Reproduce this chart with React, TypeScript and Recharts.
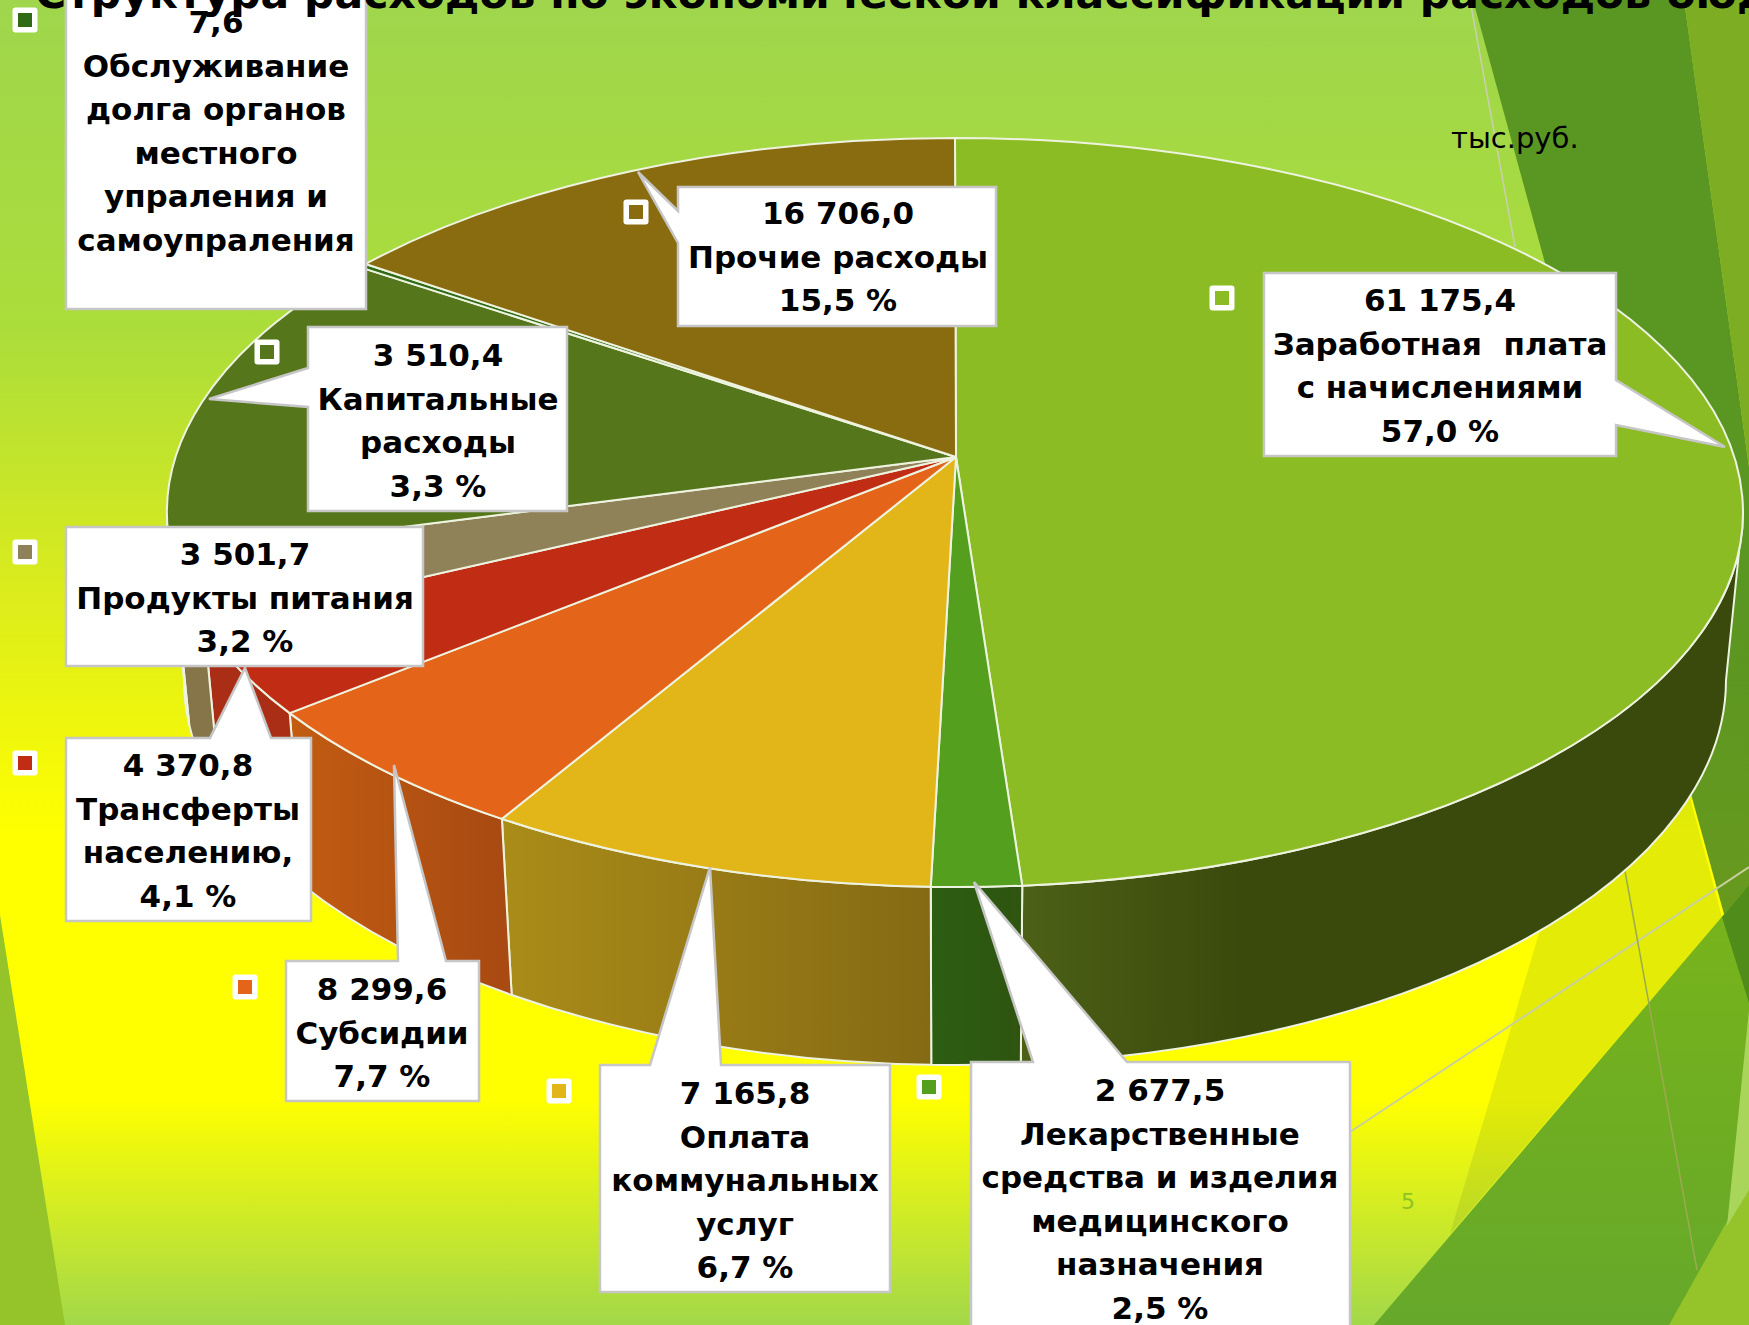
import React from 'react';
import { PieChart, Pie } from 'recharts';

const W = 1749;
const H = 1325;

const categories = [
  'Заработная плата с начислениями',
  'Лекарственные средства и изделия медицинского назначения',
  'Оплата коммунальных услуг',
  'Субсидии',
  'Трансферты населению',
  'Продукты питания',
  'Капитальные расходы',
  'Обслуживание долга органов местного упраления и самоупраления',
  'Прочие расходы',
];

// share of the circle each wedge really takes in the picture; it does not follow the printed numbers
const drawnShares = [48.64, 1.85, 9.26, 6.25, 4.08, 3.06, 13.23, 0.18, 13.45];

const labelLines = [
  ['61 175,4', 'Заработная  плата', 'с начислениями', '57,0 %'],
  ['2 677,5', 'Лекарственные', 'средства и изделия', 'медицинского', 'назначения', '2,5 %'],
  ['7 165,8', 'Оплата', 'коммунальных', 'услуг', '6,7 %'],
  ['8 299,6', 'Субсидии', '7,7 %'],
  ['4 370,8', 'Трансферты', 'населению,', '4,1 %'],
  ['3 501,7', 'Продукты питания', '3,2 %'],
  ['3 510,4', 'Капитальные', 'расходы', '3,3 %'],
  ['7,6', 'Обслуживание', 'долга органов', 'местного', 'упраления и', 'самоупраления'],
  ['16 706,0', 'Прочие расходы', '15,5 %'],
];

const faceColors = ['#8cbc24', '#54a01e', '#e2b518', '#e4651a', '#c12d14', '#8f8258', '#55761a', '#2f6a16', '#8a6c10'];

const wallStops = [
  [['0%', '#4c6016'], ['30%', '#3a4a0c'], ['100%', '#3a4a0c']],
  [['0%', '#2b5e12'], ['100%', '#2f5410']],
  [['0%', '#aa8c18'], ['100%', '#856a14']],
  [['0%', '#c25c12'], ['100%', '#a84a12']],
  [['0%', '#aa2e16'], ['100%', '#aa2e16']],
  [['0%', '#857548'], ['100%', '#857548']],
  [['0%', '#45600f'], ['100%', '#45600f']],
  [['0%', '#2f6a16'], ['100%', '#2f6a16']],
  [['0%', '#6f5710'], ['100%', '#6f5710']],
];

// callout outlines, clockwise, tail included
const calloutOutlines = [
  [[1264, 273], [1616, 273], [1616, 380], [1725, 447], [1616, 425], [1616, 456], [1264, 456]],
  [[971, 1062], [1033, 1062], [974, 882], [1127, 1062], [1350, 1062], [1350, 1340], [971, 1340]],
  [[600, 1065], [650, 1065], [710, 867], [721, 1065], [890, 1065], [890, 1292], [600, 1292]],
  [[286, 961], [398, 961], [394, 765], [446, 961], [479, 961], [479, 1101], [286, 1101]],
  [[66, 738], [210, 738], [245, 668], [271, 738], [311, 738], [311, 921], [66, 921]],
  [[66, 527], [423, 527], [423, 666], [66, 666]],
  [[308, 327], [567, 327], [567, 511], [308, 511], [308, 407], [209, 399], [308, 368]],
  [[66, -20], [366, -20], [366, 309], [66, 309]],
  [[678, 187], [996, 187], [996, 326], [678, 326], [678, 243], [638, 172], [678, 211]],
];

const textCenters = [
  [1440, 300], [1160, 1090], [745, 1093], [382, 989], [188, 765], [245, 554], [438, 355], [216, 22], [838, 213],
];

const markerCenters = [
  [1222, 298], [929, 1087], [559, 1091], [245, 987], [25, 763], [25, 552], [267, 352], [25, 20], [636, 212],
];

const chartData = categories.map((name, i) => ({ name, share: drawnShares[i], fill: faceColors[i] }));

const LINE_H = 43.6;
const FONT = '"DejaVu Sans", sans-serif';

// the pie is a tilted disc: rim ellipse, apex above the ellipse centre, wall on a second ellipse
const RY_RATIO = 374.5 / 788;
const APEX_DY = -55.5;
const LOW_RX = 771 / 788;
const LOW_RY = 385 / 788;
const LOW_DY = 167.5;

const rad = (d: number) => (d * Math.PI) / 180;
const rimTop = (cx: number, cy: number, r: number, t: number) =>
  [cx + r * Math.sin(rad(t)), cy - r * RY_RATIO * Math.cos(rad(t))];
const rimLow = (cx: number, cy: number, r: number, t: number) =>
  [cx + r * LOW_RX * Math.sin(rad(t)), cy + LOW_DY - r * LOW_RY * Math.cos(rad(t))];

const sweep = (p: any) => {
  const a = 90 - Math.max(p.startAngle, p.endAngle);
  const b = 90 - Math.min(p.startAngle, p.endAngle);
  return [a, b];
};

function FaceShape(props: any) {
  const { cx, cy, outerRadius: r, fill } = props;
  const [t1, t2] = sweep(props);
  const [x1, y1] = rimTop(cx, cy, r, t1);
  const [x2, y2] = rimTop(cx, cy, r, t2);
  const large = t2 - t1 > 180 ? 1 : 0;
  const d = `M${cx + 1},${cy + APEX_DY} L${x1},${y1} A${r},${r * RY_RATIO} 0 ${large} 1 ${x2},${y2} Z`;
  return <path d={d} fill={fill} stroke="#eef3e0" strokeWidth={2} strokeLinejoin="round" />;
}

function WallShape(props: any) {
  const { cx, cy, outerRadius: r, index } = props;
  const [a, b] = sweep(props);
  const t1 = Math.max(a, 90);
  const t2 = Math.min(b, 270);
  if (t2 <= t1) return <g />;
  const [x1, y1] = rimTop(cx, cy, r, t1);
  const [x2, y2] = rimTop(cx, cy, r, t2);
  const [x3, y3] = rimLow(cx, cy, r, t2);
  const [x4, y4] = rimLow(cx, cy, r, t1);
  const d =
    `M${x1},${y1} A${r},${r * RY_RATIO} 0 0 1 ${x2},${y2} L${x3},${y3} ` +
    `A${r * LOW_RX},${r * LOW_RY} 0 0 0 ${x4},${y4} Z`;
  const id = `wall-${index}`;
  return (
    <g>
      <defs>
        <linearGradient id={id} gradientUnits="userSpaceOnUse" x1={Math.min(x1, x2)} x2={Math.max(x1, x2)} y1={0} y2={0}>
          {wallStops[index].map(([o, c]) => (
            <stop key={o} offset={o} stopColor={c} />
          ))}
        </linearGradient>
      </defs>
      <path d={d} fill={`url(#${id})`} stroke="#eef3e0" strokeWidth={2} strokeLinejoin="round" />
    </g>
  );
}

function Callout(props: any) {
  const { index } = props;
  const points = calloutOutlines[index].map((p) => p.join(',')).join(' ');
  const [tx, ty] = textCenters[index];
  const [mx, my] = markerCenters[index];
  return (
    <g>
      <rect x={mx - 12.5} y={my - 12.5} width={25} height={25} rx={3} fill="#fff" />
      <rect x={mx - 7} y={my - 7} width={14} height={14} fill={faceColors[index]} />
      <polygon points={points} fill="#fff" stroke="#c6c6c6" strokeWidth={2.5} />
      {labelLines[index].map((line, i) => (
        <text
          key={i}
          x={tx}
          y={ty + i * LINE_H + 11}
          textAnchor="middle"
          fontFamily={FONT}
          fontWeight="bold"
          fontSize={31}
          fill="#000"
          style={{ whiteSpace: 'pre' }}
        >
          {line}
        </text>
      ))}
    </g>
  );
}

function Backdrop() {
  return (
    <svg width={W} height={H} style={{ position: 'absolute', left: 0, top: 0 }}>
      <defs>
        <linearGradient id="bandDark" x1="0" y1="0" x2="0" y2="1">
          <stop offset="0%" stopColor="#5a9622" />
          <stop offset="60%" stopColor="#5a9622" />
          <stop offset="100%" stopColor="#6c9a1c" />
        </linearGradient>
        <linearGradient id="bigFacet" x1="0" y1="0" x2="0" y2="1">
          <stop offset="0%" stopColor="#78b41a" />
          <stop offset="100%" stopColor="#66a82a" />
        </linearGradient>
      </defs>
      <polygon points="0,915 65,1325 0,1325" fill="#94c42a" />
      <polygon points="1473,0 1684,0 1749,467 1749,1005 1545,263" fill="url(#bandDark)" />
      <polygon points="1684,0 1749,0 1749,467" fill="#7cad22" />
      <polygon points="1540,930 1690,798 1722,917 1450,1234" fill="#7a9a20" fillOpacity={0.2} />
      <polygon points="1374,1325 1749,885 1749,1325" fill="url(#bigFacet)" />
      <polygon points="1722,917 1749,885 1749,1003" fill="#4f8c1a" />
      <polygon points="1669,1325 1749,1182 1749,1325" fill="#94c42a" />
      <polygon points="1749,1010 1727,1226 1749,1190" fill="#a9d65a" />
      <line x1={1470} y1={0} x2={1515} y2={247} stroke="#c9cfb0" strokeWidth={1.5} />
      <line x1={1350} y1={1132} x2={1749} y2={867} stroke="#c8d0a0" strokeWidth={2} />
      <line x1={1625} y1={871} x2={1697} y2={1270} stroke="#9caa50" strokeWidth={1.5} />
      <text x={1451} y={148} fontFamily={FONT} fontSize={29} fill="#000">тыс.руб.</text>
      <text x={1408} y={1209} textAnchor="middle" fontFamily={FONT} fontSize={22} fill="#90c226">5</text>
    </svg>
  );
}

export default function App() {
  return (
    <div
      style={{
        position: 'absolute',
        left: 0,
        top: 0,
        width: W,
        height: H,
        overflow: 'hidden',
        background:
          'linear-gradient(180deg, #9fd64c 0%, #abdd3a 25%, #dcec1c 45%, #ffff00 63%, #ffff00 83%, #a2d84a 100%)',
      }}
    >
      <Backdrop />
      <div style={{ position: 'absolute', left: 0, top: 0 }}>
        <PieChart width={W} height={H} margin={{ top: 0, right: 0, bottom: 0, left: 0 }}>
          <Pie
            data={chartData}
            dataKey="share"
            nameKey="name"
            cx={955}
            cy={512.5}
            outerRadius={788}
            startAngle={90}
            endAngle={-270}
            isAnimationActive={false}
            shape={WallShape}
            label={false}
            labelLine={false}
          />
          <Pie
            data={chartData}
            dataKey="share"
            nameKey="name"
            cx={955}
            cy={512.5}
            outerRadius={788}
            startAngle={90}
            endAngle={-270}
            isAnimationActive={false}
            shape={FaceShape}
            label={Callout}
            labelLine={false}
          />
        </PieChart>
      </div>
      <svg width={W} height={H} style={{ position: 'absolute', left: 0, top: 0, pointerEvents: 'none' }}>
        <text x={35} y={8} fontFamily={FONT} fontWeight="bold" fontSize={42.5} fill="#000">
          Структура расходов по экономической классификации расходов бюджета
        </text>
      </svg>
    </div>
  );
}
